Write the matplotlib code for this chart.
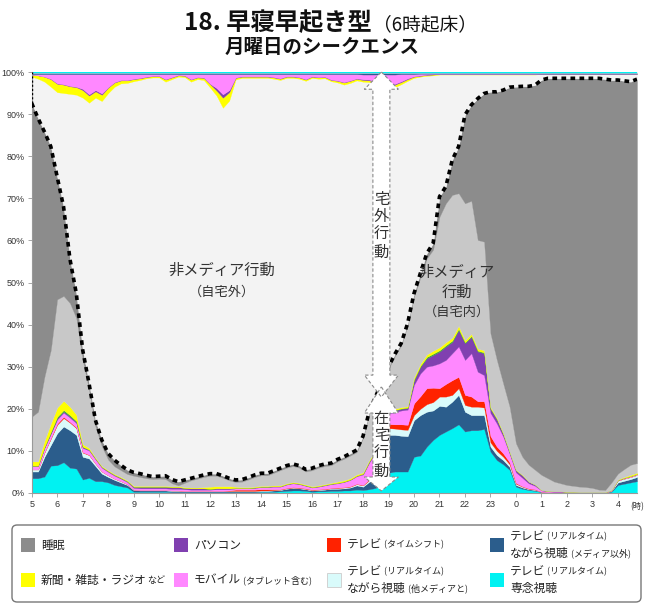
import numpy as np
import matplotlib.pyplot as plt
from matplotlib.patches import Polygon, FancyBboxPatch, Rectangle

plt.rcParams['font.family'] = ['Noto Sans CJK JP', 'DejaVu Sans']

W, H = 650, 611

hour_labels = ['5', '6', '7', '8', '9', '10', '11', '12', '13', '14', '15', '16',
               '17', '18', '19', '20', '21', '22', '23', '0', '1', '2', '3', '4']

# 15-minute steps from 5:00 to 4:45 (percent of people), two hours per line
# --- at-home media (stacked from the bottom) ---
tv_focus = [  # テレビ(リアルタイム) 専念視聴
    3.5, 3.5, 3.9, 6.5, 6.6, 7.3, 6.0, 5.8,
    3.2, 3.6, 2.8, 2.8, 2.5, 1.9, 1.6, 1.3,
    0.3, 0.3, 0.3, 0.3, 0.3, 0.3, 0.2, 0.2,
    0.2, 0.2, 0.2, 0.2, 0.2, 0.2, 0.2, 0.2,
    0.2, 0.2, 0.2, 0.2, 0.3, 0.3, 0.3, 0.4,
    0.5, 0.6, 0.6, 0.5, 0.3, 0.4, 0.4, 0.5,
    0.5, 0.6, 0.6, 0.8, 0.7, 0.9, 1.2, 3.0,
    4.8, 5.1, 5.1, 5.1, 8.6, 8.9, 11.0, 12.6,
    13.8, 14.6, 15.4, 16.3, 14.6, 14.9, 14.9, 15.2,
    9.8, 7.8, 6.8, 5.5, 1.5, 1.0, 0.7, 0.5,
    0.2, 0.1, 0.1, 0.1, 0.1, 0.1, 0.1, 0.1,
    0.1, 0.1, 0.1, 0.3, 1.9, 2.2, 2.5, 2.8,
]
tv_nonmedia = [  # テレビ(リアルタイム) ながら視聴(メディア以外)
    1.6, 1.6, 4.7, 4.9, 7.6, 8.5, 8.9, 8.0,
    5.4, 4.6, 3.6, 1.8, 1.3, 1.2, 0.9, 0.6,
    0.4, 0.3, 0.3, 0.3, 0.3, 0.3, 0.3, 0.3,
    0.2, 0.2, 0.2, 0.2, 0.2, 0.2, 0.2, 0.2,
    0.2, 0.2, 0.2, 0.2, 0.2, 0.2, 0.3, 0.3,
    0.5, 0.6, 0.5, 0.4, 0.3, 0.3, 0.4, 0.5,
    0.5, 0.5, 0.7, 1.0, 0.8, 1.8, 3.0, 5.0,
    9.0, 8.7, 8.5, 8.4, 8.7, 9.6, 8.3, 7.0,
    6.9, 5.9, 6.3, 7.0, 4.7, 3.6, 3.6, 3.3,
    1.2, 1.2, 1.0, 0.7, 0.4, 0.3, 0.2, 0.2,
    0.1, 0.1, 0.1, 0.1, 0.1, 0.1, 0.0, 0.0,
    0.0, 0.0, 0.0, 0.2, 0.6, 0.7, 0.8, 1.0,
]
tv_withmedia = [  # テレビ(リアルタイム) ながら視聴(他メディアと)
    0.5, 0.5, 1.0, 1.5, 2.0, 2.0, 1.8, 1.6,
    1.0, 0.8, 0.6, 0.5, 0.4, 0.3, 0.3, 0.2,
    0.1, 0.1, 0.1, 0.1, 0.1, 0.1, 0.1, 0.1,
    0.1, 0.1, 0.1, 0.1, 0.1, 0.1, 0.1, 0.1,
    0.1, 0.1, 0.1, 0.1, 0.1, 0.1, 0.1, 0.1,
    0.1, 0.1, 0.1, 0.1, 0.1, 0.1, 0.1, 0.1,
    0.2, 0.2, 0.2, 0.3, 0.3, 0.4, 0.6, 1.0,
    1.6, 1.5, 1.5, 1.5, 1.2, 1.5, 1.8, 2.0,
    2.2, 2.4, 1.6, 1.6, 1.6, 2.0, 2.0, 1.8,
    1.0, 1.0, 0.8, 0.6, 0.3, 0.2, 0.1, 0.1,
    0.0, 0.0, 0.0, 0.0, 0.0, 0.0, 0.0, 0.0,
    0.0, 0.0, 0.0, 0.1, 0.5, 0.5, 0.5, 0.5,
]
tv_shift = [  # テレビ(タイムシフト)
    0.0, 0.0, 0.1, 0.2, 0.3, 0.3, 0.2, 0.2,
    0.1, 0.1, 0.0, 0.0, 0.0, 0.0, 0.0, 0.0,
    0.0, 0.0, 0.0, 0.0, 0.0, 0.0, 0.0, 0.0,
    0.0, 0.0, 0.0, 0.0, 0.0, 0.0, 0.0, 0.1,
    0.3, 0.3, 0.3, 0.3, 0.3, 0.3, 0.2, 0.1,
    0.1, 0.1, 0.1, 0.1, 0.1, 0.1, 0.1, 0.1,
    0.1, 0.1, 0.1, 0.1, 0.1, 0.2, 0.3, 0.5,
    1.0, 1.0, 1.2, 1.2, 2.8, 3.0, 3.8, 3.4,
    2.0, 3.0, 3.5, 2.7, 2.4, 2.4, 1.3, 1.5,
    1.5, 1.0, 0.8, 0.5, 0.2, 0.1, 0.1, 0.1,
    0.0, 0.0, 0.0, 0.0, 0.0, 0.0, 0.0, 0.0,
    0.0, 0.0, 0.0, 0.0, 0.0, 0.0, 0.0, 0.0,
]
mobile = [  # モバイル(タブレット含む)
    0.8, 0.8, 1.0, 1.0, 1.0, 1.0, 1.0, 1.0,
    1.0, 1.0, 1.0, 0.9, 0.8, 0.7, 0.6, 0.5,
    0.4, 0.4, 0.4, 0.4, 0.4, 0.4, 0.4, 0.4,
    0.4, 0.3, 0.3, 0.3, 0.3, 0.4, 0.4, 0.3,
    0.3, 0.3, 0.3, 0.4, 0.5, 0.5, 0.6, 0.6,
    0.8, 0.9, 0.8, 0.6, 0.5, 0.6, 0.8, 0.9,
    1.0, 1.2, 1.5, 1.8, 2.5, 4.0, 4.5, 3.5,
    2.5, 2.9, 3.3, 3.6, 4.4, 5.4, 5.1, 5.3,
    5.9, 5.7, 6.4, 7.2, 8.3, 10.3, 7.0, 6.2,
    5.5, 5.5, 4.0, 2.0, 2.5, 2.0, 1.2, 0.8,
    0.3, 0.2, 0.1, 0.1, 0.1, 0.1, 0.1, 0.1,
    0.1, 0.1, 0.1, 0.1, 0.1, 0.2, 0.2, 0.2,
]
pc = [  # パソコン
    0.1, 0.1, 0.1, 0.2, 0.3, 0.3, 0.3, 0.3,
    0.2, 0.2, 0.2, 0.2, 0.2, 0.2, 0.2, 0.2,
    0.3, 0.4, 0.4, 0.4, 0.4, 0.4, 0.4, 0.4,
    0.3, 0.3, 0.3, 0.3, 0.2, 0.2, 0.2, 0.2,
    0.1, 0.1, 0.1, 0.1, 0.1, 0.1, 0.1, 0.1,
    0.1, 0.1, 0.1, 0.1, 0.1, 0.1, 0.1, 0.1,
    0.1, 0.1, 0.1, 0.1, 0.2, 0.3, 0.3, 0.3,
    0.4, 0.4, 0.4, 0.4, 1.1, 1.6, 2.0, 2.5,
    2.8, 3.2, 2.7, 3.9, 4.0, 3.9, 4.8, 5.2,
    1.0, 1.0, 0.6, 0.4, 0.5, 0.6, 0.4, 0.3,
    0.1, 0.1, 0.1, 0.1, 0.0, 0.0, 0.0, 0.0,
    0.0, 0.0, 0.0, 0.0, 0.0, 0.0, 0.0, 0.0,
]
other = [  # thin green band (no legend entry)
    0.0, 0.0, 0.1, 0.2, 0.3, 0.3, 0.3, 0.2,
    0.1, 0.0, 0.0, 0.0, 0.0, 0.0, 0.0, 0.0,
    0.0, 0.0, 0.0, 0.0, 0.0, 0.0, 0.0, 0.0,
    0.0, 0.0, 0.0, 0.0, 0.0, 0.0, 0.0, 0.0,
    0.0, 0.0, 0.0, 0.0, 0.0, 0.0, 0.0, 0.0,
    0.0, 0.0, 0.0, 0.0, 0.0, 0.0, 0.0, 0.0,
    0.0, 0.0, 0.0, 0.0, 0.0, 0.0, 0.0, 0.0,
    0.1, 0.1, 0.1, 0.1, 0.2, 0.2, 0.3, 0.3,
    0.3, 0.3, 0.3, 0.3, 0.2, 0.2, 0.2, 0.2,
    0.1, 0.1, 0.0, 0.0, 0.0, 0.0, 0.0, 0.0,
    0.0, 0.0, 0.0, 0.0, 0.0, 0.0, 0.0, 0.0,
    0.0, 0.0, 0.0, 0.0, 0.0, 0.0, 0.0, 0.0,
]
printed = [  # 新聞・雑誌・ラジオなど
    1.0, 1.0, 1.5, 2.0, 2.2, 2.2, 2.0, 1.5,
    0.6, 0.4, 0.2, 0.2, 0.2, 0.2, 0.2, 0.2,
    0.2, 0.2, 0.2, 0.2, 0.2, 0.2, 0.2, 0.2,
    0.2, 0.2, 0.2, 0.3, 0.5, 0.5, 0.5, 0.5,
    0.3, 0.2, 0.2, 0.2, 0.2, 0.2, 0.2, 0.2,
    0.2, 0.2, 0.2, 0.2, 0.2, 0.2, 0.2, 0.2,
    0.3, 0.3, 0.3, 0.3, 0.3, 0.3, 0.3, 0.3,
    0.3, 0.3, 0.3, 0.3, 0.5, 0.5, 0.6, 0.7,
    0.7, 0.7, 0.7, 0.7, 0.5, 0.5, 0.5, 0.5,
    0.3, 0.2, 0.2, 0.1, 0.1, 0.1, 0.0, 0.0,
    0.0, 0.0, 0.0, 0.0, 0.0, 0.0, 0.0, 0.0,
    0.0, 0.0, 0.0, 0.0, 0.1, 0.2, 0.3, 0.3,
]
sleep = [  # 睡眠
    74.5, 69.7, 58.2, 48.3, 29.1, 21.2, 10.5, 5.9,
    2.4, 1.5, 1.5, 1.5, 1.5, 1.5, 1.2, 1.0,
    0.8, 0.8, 0.7, 0.6, 0.6, 0.8, 0.9, 0.9,
    0.7, 0.5, 0.5, 0.5, 0.5, 0.5, 0.5, 0.5,
    0.5, 0.5, 0.5, 0.5, 0.5, 0.5, 0.5, 0.5,
    0.5, 0.5, 0.5, 0.5, 0.5, 0.5, 0.5, 0.5,
    0.5, 0.5, 0.5, 0.5, 0.5, 0.5, 0.5, 0.6,
    0.5, 0.5, 0.5, 0.5, 0.8, 1.0, 1.2, 1.5,
    4.8, 4.0, 8.3, 11.1, 21.0, 22.8, 33.6, 35.2,
    57.4, 63.7, 69.7, 75.9, 84.7, 88.0, 89.9, 91.4,
    93.8, 95.0, 95.8, 96.2, 96.6, 96.8, 97.0, 97.1,
    97.3, 97.7, 97.6, 95.6, 93.5, 92.2, 91.0, 91.2,
]
at_home = [  # 在宅 (dotted line)
    92.6, 89.0, 85.8, 82.3, 75.1, 68.0, 55.6, 47.4,
    34.0, 26.0, 17.3, 12.6, 9.4, 7.8, 6.6, 5.5,
    4.9, 4.6, 4.2, 3.9, 4.0, 4.1, 3.2, 2.7,
    3.1, 3.5, 3.9, 4.3, 4.6, 4.6, 4.1, 3.5,
    3.1, 3.2, 3.7, 4.3, 4.7, 4.7, 5.3, 5.9,
    6.5, 6.9, 6.5, 5.6, 5.9, 6.5, 6.9, 7.1,
    8.0, 8.6, 9.4, 10.2, 13.5, 19.5, 23.0, 26.5,
    30.0, 33.0, 35.6, 40.3, 47.4, 52.2, 56.9, 59.3,
    70.4, 72.8, 79.1, 82.3, 89.8, 92.2, 93.7, 94.9,
    95.3, 95.3, 95.7, 96.4, 96.5, 96.6, 96.6, 96.9,
    98.1, 98.5, 98.5, 98.5, 98.5, 98.5, 98.5, 98.5,
    98.5, 98.5, 98.3, 98.1, 98.1, 97.9, 97.7, 98.3,
]
# --- media used away from home (hanging from the top) ---
out_print = [
    0.5, 0.8, 1.2, 1.8, 2.0, 2.0, 1.8, 1.8,
    1.8, 1.7, 1.5, 1.5, 1.3, 1.0, 0.7, 0.6,
    0.5, 0.4, 0.3, 0.3, 0.3, 0.5, 0.4, 0.3,
    0.3, 0.5, 0.4, 0.5, 0.8, 1.2, 2.4, 2.0,
    0.4, 0.3, 0.3, 0.3, 0.3, 0.3, 0.3, 0.3,
    0.3, 0.3, 0.3, 0.3, 0.3, 0.3, 0.3, 0.3,
    0.4, 0.5, 0.5, 0.4, 0.4, 0.4, 0.5, 0.6,
    0.6, 0.6, 0.5, 0.4, 0.3, 0.2, 0.2, 0.2,
    0.1, 0.1, 0.1, 0.1, 0.1, 0.1, 0.1, 0.1,
    0.1, 0.1, 0.1, 0.1, 0.1, 0.1, 0.1, 0.1,
    0.1, 0.1, 0.1, 0.1, 0.1, 0.1, 0.1, 0.1,
    0.1, 0.1, 0.1, 0.1, 0.1, 0.1, 0.1, 0.1,
]
out_pc = [
    0.0, 0.0, 0.0, 0.1, 0.1, 0.1, 0.1, 0.1,
    0.3, 0.3, 0.3, 0.3, 0.1, 0.1, 0.1, 0.1,
    0.1, 0.1, 0.1, 0.1, 0.1, 0.1, 0.1, 0.1,
    0.1, 0.1, 0.1, 0.1, 0.1, 0.6, 0.8, 0.5,
    0.1, 0.1, 0.1, 0.1, 0.1, 0.1, 0.1, 0.1,
    0.1, 0.1, 0.1, 0.1, 0.1, 0.1, 0.1, 0.1,
    0.1, 0.1, 0.1, 0.1, 0.2, 0.2, 0.2, 0.2,
    0.2, 0.2, 0.2, 0.2, 0.1, 0.1, 0.1, 0.1,
    0.0, 0.0, 0.0, 0.0, 0.0, 0.0, 0.0, 0.0,
    0.0, 0.0, 0.0, 0.0, 0.0, 0.0, 0.0, 0.0,
    0.0, 0.0, 0.0, 0.0, 0.0, 0.0, 0.0, 0.0,
    0.0, 0.0, 0.0, 0.0, 0.0, 0.0, 0.0, 0.0,
]
out_mobile = [
    0.1, 0.3, 0.6, 1.1, 2.2, 2.4, 2.8, 3.0,
    3.5, 4.8, 3.8, 4.6, 3.1, 1.9, 1.4, 1.4,
    1.1, 0.9, 0.6, 0.4, 0.4, 1.2, 0.7, 0.2,
    0.3, 1.2, 0.7, 0.8, 2.3, 3.3, 4.8, 3.8,
    0.8, 0.5, 0.5, 0.5, 0.5, 0.5, 0.7, 1.0,
    0.5, 0.5, 0.7, 1.2, 0.5, 0.7, 0.6, 1.3,
    1.5, 1.9, 1.5, 1.0, 1.1, 1.2, 1.7, 2.0,
    2.2, 2.2, 1.7, 1.0, 0.5, 0.4, 0.2, 0.1,
    0.1, 0.1, 0.1, 0.1, 0.1, 0.1, 0.1, 0.1,
    0.1, 0.1, 0.1, 0.1, 0.1, 0.1, 0.1, 0.1,
    0.0, 0.0, 0.0, 0.0, 0.0, 0.0, 0.0, 0.0,
    0.0, 0.0, 0.0, 0.0, 0.0, 0.0, 0.0, 0.0,
]
out_tvnm = [
    0.2, 0.2, 0.2, 0.2, 0.2, 0.2, 0.2, 0.2,
    0.2, 0.2, 0.2, 0.2, 0.2, 0.2, 0.2, 0.2,
    0.2, 0.2, 0.2, 0.2, 0.2, 0.2, 0.2, 0.2,
    0.2, 0.2, 0.2, 0.2, 0.2, 0.2, 0.2, 0.2,
    0.2, 0.2, 0.2, 0.2, 0.2, 0.2, 0.2, 0.2,
    0.2, 0.2, 0.2, 0.2, 0.2, 0.2, 0.2, 0.2,
    0.2, 0.2, 0.2, 0.2, 0.3, 0.3, 0.3, 0.3,
    0.3, 0.3, 0.2, 0.2, 0.2, 0.1, 0.1, 0.1,
    0.1, 0.1, 0.1, 0.1, 0.1, 0.1, 0.1, 0.1,
    0.1, 0.1, 0.1, 0.1, 0.1, 0.1, 0.1, 0.1,
    0.1, 0.1, 0.1, 0.1, 0.1, 0.1, 0.1, 0.1,
    0.1, 0.1, 0.1, 0.1, 0.1, 0.1, 0.1, 0.1,
]
out_tv = [
    0.3, 0.3, 0.3, 0.3, 0.3, 0.3, 0.3, 0.3,
    0.3, 0.3, 0.3, 0.3, 0.3, 0.3, 0.3, 0.3,
    0.3, 0.3, 0.3, 0.3, 0.3, 0.3, 0.3, 0.3,
    0.3, 0.3, 0.3, 0.3, 0.3, 0.3, 0.3, 0.3,
    0.3, 0.3, 0.3, 0.3, 0.3, 0.3, 0.3, 0.3,
    0.3, 0.3, 0.3, 0.3, 0.3, 0.3, 0.3, 0.3,
    0.3, 0.3, 0.3, 0.3, 0.3, 0.3, 0.3, 0.3,
    0.3, 0.3, 0.3, 0.3, 0.3, 0.3, 0.3, 0.3,
    0.3, 0.3, 0.3, 0.3, 0.3, 0.3, 0.3, 0.3,
    0.3, 0.3, 0.3, 0.3, 0.3, 0.3, 0.3, 0.3,
    0.3, 0.3, 0.3, 0.3, 0.3, 0.3, 0.3, 0.3,
    0.3, 0.3, 0.3, 0.3, 0.3, 0.3, 0.3, 0.3,
]

C_CYAN, C_BLUE, C_LCYAN, C_RED = '#00f2f2', '#2b5d8c', '#d9fbfb', '#ff2200'
C_PINK, C_PURPLE, C_GREEN, C_YELLOW = '#ff88ff', '#8040b0', '#33aa33', '#ffff00'
C_HOME, C_SLEEP, C_OUT = '#c8c8c8', '#8c8c8c', '#f3f3f3'

x = 5 + np.arange(len(at_home)) / 4

home_media = [tv_focus, tv_nonmedia, tv_withmedia, tv_shift, mobile, pc, other, printed]
home_colors = [C_CYAN, C_BLUE, C_LCYAN, C_RED, C_PINK, C_PURPLE, C_GREEN, C_YELLOW]
home_nonmedia = np.clip(np.array(at_home) - np.array(sleep) - np.sum(home_media, axis=0), 0, None)
out_media = [out_print, out_pc, out_mobile, out_tvnm, out_tv]
out_colors = [C_YELLOW, C_PURPLE, C_PINK, C_BLUE, C_CYAN]
out_nonmedia = 100 - np.array(at_home) - np.sum(out_media, axis=0)

layers = home_media + [home_nonmedia, sleep, out_nonmedia] + out_media
colors = home_colors + [C_HOME, C_SLEEP, C_OUT] + out_colors

fig = plt.figure(figsize=(W / 100, H / 100), dpi=100)
ax = fig.add_axes([31.7 / W, 1 - 493 / H, 605.3 / W, 421 / H])

base = np.zeros(len(x))
for vals, c in zip(layers, colors):
    top = base + np.array(vals)
    ax.fill_between(x, base, top, color=c, lw=0.2, zorder=2)
    base = top

ax.plot(x, at_home, color='black', lw=2.6, ls=(0, (1.3, 1.2)), zorder=4)
ax.plot([5.02, 5.02], [at_home[0], 100], color='black', lw=1.0, ls=(0, (1.5, 1.5)), zorder=4)

ax.set_xlim(5, 28.75)
ax.set_ylim(0, 100)
ax.set_xticks(np.arange(5, 29))
ax.set_xticklabels(hour_labels)
ax.set_yticks(np.arange(0, 101, 10))
ax.set_yticklabels([f'{v}%' for v in range(0, 101, 10)])
ax.tick_params(axis='both', length=3, width=0.6, color='#999999', labelcolor='#333333',
               labelsize=6.5, pad=2)
for lab in ax.get_xticklabels() + ax.get_yticklabels():
    lab.set_fontfamily('Liberation Sans')
for s in ['top', 'right']:
    ax.spines[s].set_visible(False)
for s in ['left', 'bottom']:
    ax.spines[s].set_color('#999999')
    ax.spines[s].set_linewidth(0.8)
ax.text(28.5, -2.2, '(時)', fontsize=6, color='#333333', va='top', ha='left', clip_on=False)


# double-headed arrows marking 宅外 / 在宅
def arrow_pts(xc, y0, y1, y2, y3, hs=0.333, hh=0.667):
    return [(xc, y0), (xc + hh, y1), (xc + hs, y1), (xc + hs, y2), (xc + hh, y2),
            (xc, y3), (xc - hh, y2), (xc - hs, y2), (xc - hs, y1), (xc - hh, y1)]


xc = 18.72
arrows = [arrow_pts(xc, 100, 95.9, 28.0, 22.8), arrow_pts(xc, 25.2, 19.0, 3.8, 0.5)]
for pts in arrows:
    ax.add_patch(Polygon(pts, closed=True, fc='white', ec='none', zorder=5, clip_on=False))
for pts in arrows:
    ax.add_patch(Polygon(pts, closed=True, fc='none', ec='#8a8a8a', lw=0.8, ls=(0, (3, 2)),
                         zorder=6, clip_on=False))

ax.text(xc, 63.5, '宅\n外\n行\n動', ha='center', va='center', fontsize=11,
        linespacing=1.05, color='#333333', zorder=7)
ax.text(xc, 11.5, '在\n宅\n行\n動', ha='center', va='center', fontsize=11,
        linespacing=1.05, color='#333333', zorder=7)

ax.text(12.46, 53.0, '非メディア行動', ha='center', va='center', fontsize=11, color='#333333', zorder=7)
ax.text(12.46, 47.6, '（自宅外）', ha='center', va='center', fontsize=9.5, color='#333333', zorder=7)
ax.text(21.68, 52.4, '非メディア', ha='center', va='center', fontsize=11, color='#333333', zorder=7)
ax.text(21.68, 47.6, '行動', ha='center', va='center', fontsize=11, color='#333333', zorder=7)
ax.text(21.68, 43.0, '（自宅内）', ha='center', va='center', fontsize=9.5, color='#333333', zorder=7)

# title
fig.text(372 / W, 1 - 30 / H, '18. 早寝早起き型', ha='right', va='baseline',
         fontsize=17.5, fontweight='bold', color='#111111')
fig.text(373 / W, 1 - 30 / H, '（6時起床）', ha='left', va='baseline',
         fontsize=13.5, color='#111111')
fig.text(322 / W, 1 - 47 / H, '月曜日のシークエンス', ha='center', va='center',
         fontsize=14, fontweight='bold', color='#111111')

# legend
fig.add_artist(FancyBboxPatch((12 / W, 1 - 602 / H), 629 / W, 77 / H,
                              boxstyle='round,pad=0,rounding_size=0.008',
                              transform=fig.transFigure, fc='white', ec='#777777', lw=1.0))

legend_items = [
    (C_SLEEP, [[('睡眠', False)]]),
    (C_PURPLE, [[('パソコン', False)]]),
    (C_RED, [[('テレビ', False), (' (タイムシフト)', True)]]),
    (C_BLUE, [[('テレビ', False), (' (リアルタイム)', True)],
              [('ながら視聴', False), (' (メディア以外)', True)]]),
    (C_YELLOW, [[('新聞・雑誌・ラジオ', False), ('など', True)]]),
    (C_PINK, [[('モバイル', False), (' (タブレット含む)', True)]]),
    (C_LCYAN, [[('テレビ', False), (' (リアルタイム)', True)],
               [('ながら視聴', False), (' (他メディアと)', True)]]),
    (C_CYAN, [[('テレビ', False), (' (リアルタイム)', True)], [('専念視聴', False)]]),
]
renderer = fig.canvas.get_renderer()
col_x = [21, 174, 327, 490]
row_y = [545, 580]
for i, (color, lines) in enumerate(legend_items):
    sx, sy = col_x[i % 4], row_y[i // 4]
    fig.add_artist(Rectangle((sx / W, 1 - (sy + 7) / H), 14 / W, 14 / H,
                             transform=fig.transFigure, fc=color,
                             ec='#cccccc' if color == C_LCYAN else 'none', lw=0.6))
    n = len(lines)
    for j, parts in enumerate(lines):
        ly = sy + (j - (n - 1) / 2) * 16
        xpos = (sx + 20) / W
        for text, small in parts:
            t = fig.text(xpos, 1 - ly / H, text, fontsize=6.5 if small else 8.5,
                         ha='left', va='center', color='#222222')
            xpos = t.get_window_extent(renderer).x1 / fig.bbox.width

fig.savefig('out.png', dpi=100)
